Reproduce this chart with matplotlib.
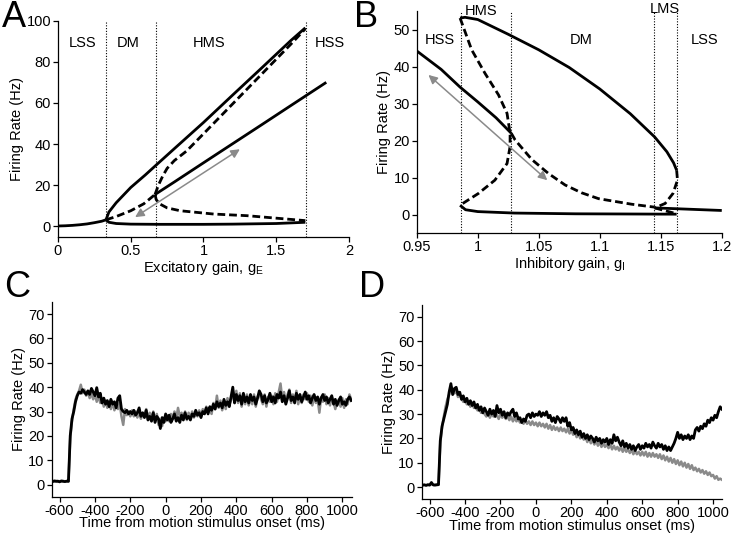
import numpy as np
import matplotlib
matplotlib.use("Agg")
from matplotlib import pyplot as plt

plt.rcParams["font.family"] = ["Liberation Sans", "DejaVu Sans"]
plt.rcParams["mathtext.default"] = "regular"
plt.rcParams["axes.unicode_minus"] = False

# ---- panel A: bifurcation vs excitatory gain ----
a_base_x = [0, 0.05, 0.1, 0.15, 0.2, 0.25, 0.3, 0.33]
a_base_y = [0.2, 0.3, 0.5, 0.8, 1.2, 1.8, 2.5, 3.2]
a_low_x = [0.33, 0.35, 0.4, 0.5, 0.7, 1.0, 1.2, 1.5, 1.7]
a_low_y = [3.2, 2.0, 1.4, 1.1, 1.0, 1.0, 1.1, 1.4, 2.0]
a_up_x = [0.33, 0.35, 0.4, 0.45, 0.5, 0.6, 0.67, 0.8, 1.0, 1.2, 1.4, 1.6, 1.7]
a_up_y = [3.2, 7, 11.5, 15.2, 18.9, 25, 29.5, 37.8, 50.5, 63.8, 77, 90.3, 96.5]
a_dm_x = [0.33, 0.4, 0.5, 0.59, 0.667]
a_dm_y = [3.2, 4.8, 7.6, 11, 15.5]
a_mid_x = [0.667, 0.8, 1.0, 1.136, 1.4, 1.6, 1.844]
a_mid_y = [15.5, 21.6, 30.9, 37.2, 49.4, 58.7, 70]
a_udash_x = [0.667, 0.69, 0.72, 0.75, 0.8, 0.885, 1.0, 1.2, 1.4, 1.6, 1.7]
a_udash_y = [15.5, 20, 24.5, 28.2, 32, 36.7, 45, 59.5, 74, 88.5, 96]
a_ldash_x = [0.667, 0.675, 0.70, 0.75, 0.84, 1.07, 1.3, 1.5, 1.7]
a_ldash_y = [15.5, 13, 10.9, 9, 7.6, 6, 5.2, 4, 2.8]
a_bounds = [0.332, 0.671, 1.702]
a_regions = ["LSS", "DM", "HMS", "HSS"]
a_region_x = [0.17, 0.48, 1.04, 1.87]
a_arrow = [(0.53, 4.5), (1.25, 37.5)]

# ---- panel B: bifurcation vs inhibitory gain ----
b_mid_x = [0.95, 0.97, 0.9855, 1.0, 1.015, 1.0275]
b_mid_y = [44.3, 39.3, 34.5, 30.5, 26.2, 22]
b_up_x = [0.9855, 0.9896, 1.0, 1.025, 1.05, 1.075, 1.1, 1.125, 1.145, 1.155, 1.1605, 1.163]
b_up_y = [53.2, 53.4, 52.8, 48.8, 44.6, 39.8, 34, 27.3, 21, 17, 14, 12]
b_s_x = [0.9855, 0.995, 1.006, 1.017, 1.024, 1.0265, 1.0265, 1.024, 1.014, 1.0005, 0.9896, 0.9855]
b_s_y = [53.2, 44.6, 38.2, 32.4, 27.4, 22, 18.4, 13.8, 9.3, 5.7, 3.4, 2.5]
b_low_x = [0.9855, 0.99, 1.0, 1.03, 1.08, 1.163]
b_low_y = [2.5, 1.3, 0.8, 0.4, 0.2, 0.1]
b_dash2_x = [1.0275, 1.0306, 1.0443, 1.058, 1.0716, 1.085, 1.099, 1.126, 1.145]
b_dash2_y = [22, 20.2, 14.9, 11.1, 8, 5.9, 4.3, 2.8, 2.0]
b_fold_x = [1.163, 1.1637, 1.160, 1.1536, 1.145]
b_fold_y = [12, 9.3, 5.7, 3, 1.8]
b_tiny_x = [1.145, 1.163]
b_tiny_y = [1.8, 0.2]
b_right_x = [1.145, 1.2]
b_right_y = [1.8, 1.1]
b_bounds = [0.986, 1.0273, 1.1448, 1.163]
b_regions = ["HSS", "HMS", "DM", "LMS", "LSS"]
b_region_xy = [(0.969, 47.3), (1.003, 55.2), (1.085, 47.3), (1.1535, 55.6), (1.186, 47.3)]
b_arrow = [(0.9596, 37.8), (1.057, 9.3)]

# ---- panels C, D: firing rate traces (10 ms bins from -640 ms) ----
t_ms = np.arange(-640, 1051, 10)
c_black = [
    1.2, 1.5, 1.3, 1.4, 1.1, 1.5, 1.3, 1.2, 1.4, 1.3,
    20, 27, 30, 34, 36.5, 38, 37.5, 39, 38, 37,
    38.5, 37, 39.5, 38, 36.5, 39.8, 36, 37.5, 33.5, 35.5,
    33, 34.5, 32, 35, 33, 34, 31.5, 35.5, 36.5, 31,
    30, 29.5, 30.5, 29, 30, 29, 30.5, 28.5, 29.5, 31.5,
    28, 29.5, 27.5, 30.5, 26.5, 28, 26, 29.5, 25.5, 28,
    27, 23, 27.5, 25.5, 29, 26.5, 28.5, 25.5, 27, 29,
    26, 27.5, 25.5, 28.5, 26.5, 29.5, 27, 28, 26.5, 29,
    28, 30.5, 28.5, 29.5, 27.5, 30, 29, 31.5, 29, 32,
    30.5, 33, 31, 34, 32, 33.5, 31.5, 35, 32.5, 34,
    32, 36, 40, 33.5, 37, 34.5, 36.5, 33, 37.5, 34,
    36, 33.5, 37, 34.5, 36, 33, 35.5, 38.5, 37, 34,
    36.5, 33.5, 35, 37.5, 34, 36, 33.5, 37, 35.5, 38,
    34, 36.5, 33, 35.5, 38.5, 34.5, 36, 33.5, 37.5, 35,
    37, 34, 36, 38, 35, 36.5, 33.5, 35.5, 37, 34.5,
    36, 33, 35.5, 37, 34.5, 36, 33.5, 35, 36.5, 33,
    35, 32.5, 34.5, 36, 33, 34, 32.5, 35, 36, 34.5,
]
c_gray = [
    1.3, 1.2, 1.5, 1.1, 1.4, 1.2, 1.5, 1.3, 1.2, 1.4,
    19, 26, 31, 35, 37, 38.5, 41, 37.5, 39, 36.5,
    38, 35.5, 37.5, 35, 37, 34, 36.5, 33.5, 35, 32,
    34.5, 31.5, 33.5, 31, 34, 30.5, 33, 31, 33.5, 28,
    24.5, 31, 28.5, 30, 28, 30.5, 28, 30, 27.5, 30,
    27, 29, 28.5, 31, 27, 29.5, 27, 30, 26.5, 29,
    24.5, 26.5, 24, 27.5, 26, 28.5, 26, 29, 27.5, 30,
    27, 31.5, 28, 29.5, 27, 30, 26.5, 29.5, 27, 30,
    27.5, 29, 28, 30.5, 28, 31, 29.5, 32, 30, 31,
    29, 33.5, 31, 36.5, 31.5, 34.5, 30.5, 33.5, 31, 35.5,
    33, 34.5, 38, 34, 38.5, 33.5, 37.5, 32, 36, 33,
    37, 32.5, 35.5, 33, 37, 32, 36, 37.5, 35, 33,
    37, 32, 36, 34, 36.5, 33, 37.5, 34, 38, 41.5,
    35, 38, 33.5, 37, 39, 33.5, 37, 34, 38.5, 33,
    36, 33.5, 37, 35, 37.5, 34, 36.5, 32.5, 36, 33.5,
    35, 29.5, 36, 34, 37, 33, 35.5, 32.5, 36, 34,
    31, 33.5, 35, 32, 35.5, 31.5, 35, 33, 37, 35,
]
d_black = [
    0.8, 0.9, 0.7, 1.0, 0.8, 1.9, 0.9, 0.8, 1.0, 1.0,
    19, 25, 28, 31, 34, 39, 42.5, 38, 40.5, 41,
    38, 39, 36, 37.5, 35, 36.5, 34, 35.5, 33.5, 35,
    32.5, 34, 31.5, 33, 30.5, 32.5, 31, 29.5, 32, 30,
    31.5, 29, 33.5, 30.5, 32, 29.5, 31, 28.5, 30.5, 29.5,
    31, 32, 29, 30.5, 28, 28.5, 26.5, 28, 27, 29.5,
    30, 28.5, 30.5, 29, 30, 29.5, 31, 29, 30.5, 29.5,
    31, 28.5, 29.5, 27, 28.5, 26.5, 29, 28, 26.5, 28.5,
    27, 28.5, 25, 26.5, 23.5, 24.5, 22, 23.5, 21.5, 23,
    20.5, 22, 20, 21.5, 19.5, 21, 20, 18.5, 20.5, 19,
    20, 18, 19.5, 18.5, 20, 17.5, 19.5, 18, 21.5, 19,
    20.5, 18.5, 17, 19, 16.5, 18, 16, 17.5, 15.5, 17,
    15, 16.5, 17.5, 15.5, 17, 16, 18, 16.5, 17.5, 16,
    18.5, 17, 16, 18, 16.5, 17.5, 15.5, 17, 15, 16.5,
    15, 16.5, 18, 20, 22.5, 20, 21.5, 19.5, 21, 20,
    21.5, 19.5, 21, 20, 23.5, 24.5, 23, 25, 24, 26,
    25, 27.5, 26.5, 28.5, 27.5, 29.5, 28.5, 31, 33, 32,
]
d_gray = [
    0.8, 1.0, 0.8, 0.9, 1.0, 1.2, 0.9, 1.0, 0.8, 1.0,
    18, 24.5, 29, 33, 36, 38, 41.5, 40, 38.5, 39.5,
    37, 38, 36.5, 35, 36, 34, 35, 33, 34.5, 32.5,
    33.5, 31.5, 32.5, 30.5, 31.5, 30, 29, 30.5, 28.5, 30,
    29, 31, 29.5, 28, 30, 28.5, 29.5, 28, 29, 27.5,
    29, 27, 28.5, 27, 28, 26.5, 27.5, 26, 27.5, 26,
    27, 25.5, 27, 25.5, 26.5, 25, 26.5, 25, 26, 24.5,
    26, 24, 25.5, 23.5, 25, 23.5, 24.5, 23, 24.5, 23,
    24, 22.5, 24, 22, 23.5, 21.5, 22.5, 20.5, 22, 20,
    21, 19.5, 20.5, 18.5, 20, 18, 19.5, 17.5, 19, 17,
    18.5, 16.5, 18, 16.5, 17.5, 16, 17.5, 15.5, 17, 15.5,
    16.5, 15, 16.5, 14.5, 16, 14.5, 15.5, 14, 15.5, 13.5,
    15, 13.5, 14.5, 13, 14.5, 13, 14.5, 12.5, 14, 12.5,
    14, 12.5, 13.5, 12, 13.5, 11.5, 13, 11, 12.5, 10.5,
    12, 10, 11.5, 9.5, 11, 9, 10.5, 8.5, 10, 8,
    9.5, 7.5, 9, 7, 8, 6.5, 7.5, 6, 7, 5.5,
    6.5, 5, 6, 4.5, 5, 3.5, 4.5, 3, 3.5, 3,
]

SOLID = dict(color="black", lw=2.0, solid_capstyle="butt")
DASH = dict(color="black", lw=2.0, linestyle=(0, (2.8, 1.4)))
ARROW = dict(arrowstyle="<|-|>", color="#8a8a8a", lw=1.1, mutation_scale=13,
             shrinkA=0, shrinkB=0)
FS = 10.5


def style_axes(ax):
    for side in ("top", "right"):
        ax.spines[side].set_visible(False)
    for side in ("left", "bottom"):
        ax.spines[side].set_linewidth(0.9)
    ax.tick_params(direction="out", length=3.5, width=0.9, labelsize=FS, pad=1.5)


fig = plt.figure(figsize=(7.35, 5.4), dpi=100)

# Panel A
ax = fig.add_axes([0.0789, 0.5617, 0.3959, 0.4001])
ax.plot(a_base_x, a_base_y, **SOLID)
ax.plot(a_low_x, a_low_y, **SOLID)
ax.plot(a_up_x, a_up_y, **SOLID)
ax.plot(a_mid_x, a_mid_y, **SOLID)
ax.plot(a_dm_x, a_dm_y, **DASH)
ax.plot(a_udash_x, a_udash_y, **DASH)
ax.plot(a_ldash_x, a_ldash_y, **DASH)
for b in a_bounds:
    ax.axvline(b, color="black", lw=0.8, linestyle=(0, (1, 1.5)))
for name, x in zip(a_regions, a_region_x):
    ax.text(x, 89, name, ha="center", va="center", fontsize=FS)
ax.annotate("", xy=a_arrow[0], xytext=a_arrow[1], arrowprops=ARROW)
ax.set_xlim(0, 2)
ax.set_ylim(-5, 100)
ax.set_xticks([0, 0.5, 1, 1.5, 2], ["0", "0.5", "1", "1.5", "2"])
ax.set_yticks(range(0, 101, 20))
ax.set_xlabel("Excitatory gain, g$_E$", fontsize=FS, labelpad=1)
ax.set_ylabel("Firing Rate (Hz)", fontsize=FS, labelpad=2)
style_axes(ax)

# Panel B
ax = fig.add_axes([0.567, 0.5685, 0.415, 0.4104])
ax.plot(b_mid_x, b_mid_y, **SOLID)
ax.plot(b_up_x, b_up_y, **SOLID)
ax.plot(b_low_x, b_low_y, **SOLID)
ax.plot(b_right_x, b_right_y, **SOLID)
ax.plot(b_s_x, b_s_y, **DASH)
ax.plot(b_dash2_x, b_dash2_y, **DASH)
ax.plot(b_fold_x, b_fold_y, **DASH)
ax.plot(b_tiny_x, b_tiny_y, **DASH)
for b in b_bounds:
    ax.axvline(b, color="black", lw=0.8, linestyle=(0, (1, 1.5)))
for name, (x, y) in zip(b_regions, b_region_xy):
    ax.text(x, y, name, ha="center", va="center", fontsize=FS, clip_on=False)
ax.annotate("", xy=b_arrow[0], xytext=b_arrow[1], arrowprops=ARROW)
ax.set_xlim(0.95, 1.2)
ax.set_ylim(-5, 55)
ax.set_xticks([0.95, 1, 1.05, 1.1, 1.15, 1.2],
              ["0.95", "1", "1.05", "1.1", "1.15", "1.2"])
ax.set_yticks(range(0, 51, 10))
ax.set_xlabel("Inhibitory gain, g$_I$", fontsize=FS, labelpad=1)
ax.set_ylabel("Firing Rate (Hz)", fontsize=FS, labelpad=2)
style_axes(ax)

# Panels C and D
for rect, black, gray in (
    ([0.0703, 0.0802, 0.408, 0.3606], c_black, c_gray),
    ([0.5737, 0.0754, 0.409, 0.3607], d_black, d_gray),
):
    ax = fig.add_axes(rect)
    ax.plot(t_ms, gray, color="#8a8a8a", lw=1.8)
    ax.plot(t_ms, black, color="black", lw=2.0)
    ax.set_xlim(-645, 1052)
    ax.set_ylim(-5, 75)
    ax.set_xticks(range(-600, 1001, 200))
    ax.set_yticks(range(0, 71, 10))
    ax.set_xlabel("Time from motion stimulus onset (ms)", fontsize=FS, labelpad=-1)
    ax.set_ylabel("Firing Rate (Hz)", fontsize=FS, labelpad=2)
    style_axes(ax)

for letter, x, y in (("A", 0.002, 0.935), ("B", 0.482, 0.935),
                     ("C", 0.005, 0.435), ("D", 0.488, 0.435)):
    fig.text(x, y, letter, fontsize=26, ha="left", va="bottom")

fig.savefig("out.png", dpi=100)
